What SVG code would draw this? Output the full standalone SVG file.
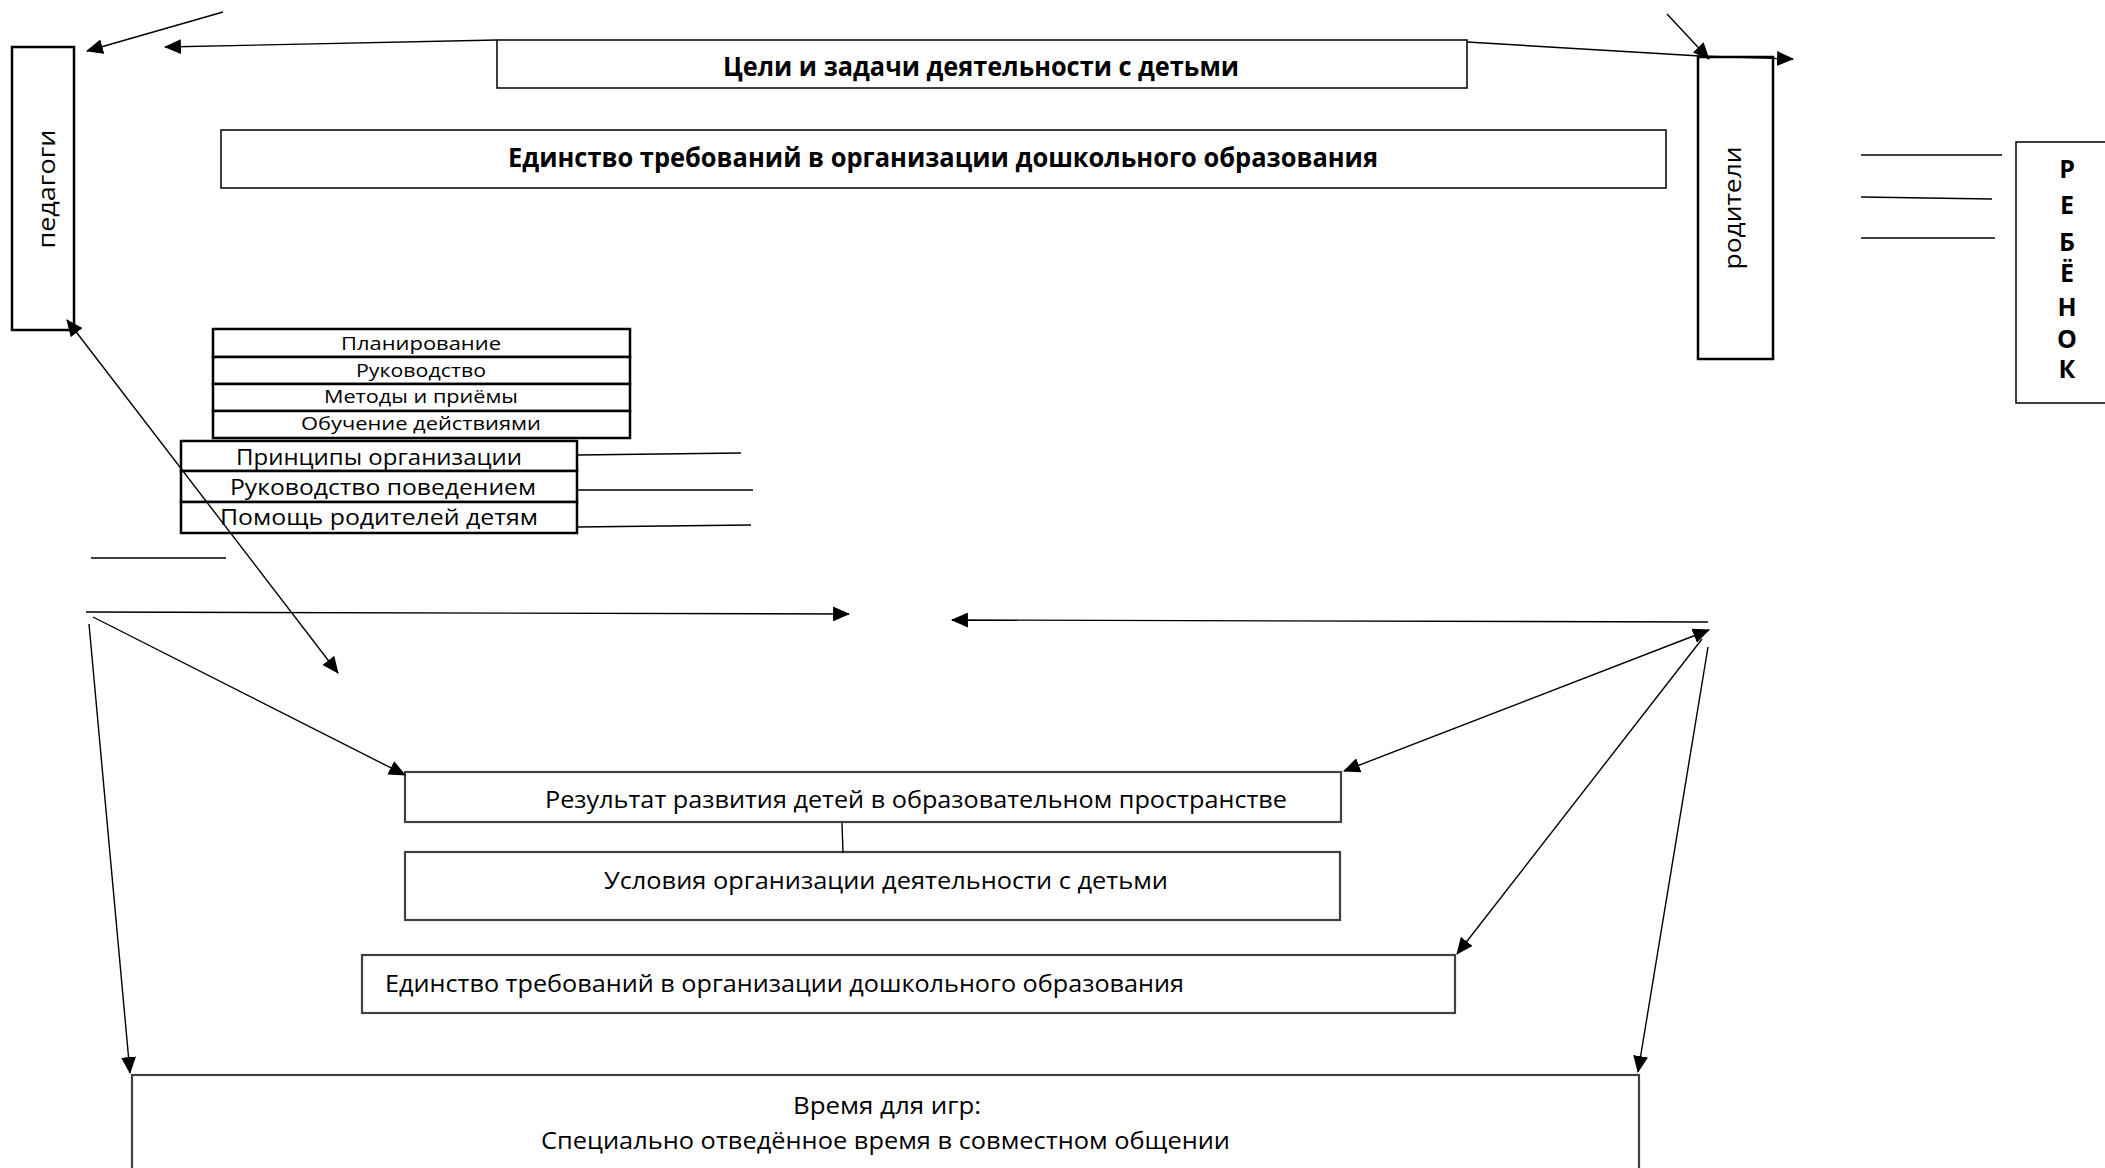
<svg xmlns="http://www.w3.org/2000/svg" width="2105" height="1168" viewBox="0 0 2105 1168">
<style>
.box{fill:#fff;stroke:#000;stroke-width:1.5}
.bx2{fill:#fff;stroke:#000;stroke-width:2.5}
.bg{fill:#fff;stroke:#404040;stroke-width:2.2}
.ln{fill:none;stroke:#000;stroke-width:1.4}
.g{font-family:"Open Sans","Liberation Sans",sans-serif;fill:#000}
.b{font-family:"Open Sans","Liberation Sans",sans-serif;font-weight:bold;fill:#000}
.c{font-family:"Open Sans","Liberation Sans",sans-serif;fill:#000}
</style>
<defs>
<marker id="ah" viewBox="0 0 16 14" refX="15" refY="7" markerWidth="17" markerHeight="15" markerUnits="userSpaceOnUse" orient="auto-start-reverse"><path d="M0,0 L16,7 L0,14 z" fill="#000"/></marker>
</defs>
<rect width="2105" height="1168" fill="#fff"/>

<g id="pedagogi">
<rect class="bx2" x="12" y="47" width="62" height="283"/>
<text class="g" font-size="24" text-anchor="middle" textLength="119" lengthAdjust="spacingAndGlyphs" transform="translate(55,189) rotate(-90)">педагоги</text>
</g>

<g id="roditeli">
<rect class="bx2" x="1698" y="57" width="75" height="302"/>
<text class="g" font-size="24" text-anchor="middle" textLength="123" lengthAdjust="spacingAndGlyphs" transform="translate(1741,208) rotate(-90)">родители</text>
</g>

<g id="rebenok">
<rect class="box" x="2016" y="142" width="120" height="261"/>
<g class="b" font-size="25" text-anchor="middle">
<text x="2067" y="178">Р</text>
<text x="2067" y="214">Е</text>
<text x="2067" y="251">Б</text>
<text x="2067" y="282">Ё</text>
<text x="2067" y="316">Н</text>
<text x="2067" y="348">О</text>
<text x="2067" y="378">К</text>
</g>
</g>

<g id="celi">
<rect class="box" x="497" y="40" width="970" height="48"/>
<text class="b" font-size="26" x="723" y="76" textLength="516" lengthAdjust="spacingAndGlyphs">Цели и задачи деятельности с детьми</text>
</g>

<g id="edinstvo-top">
<rect class="box" x="221" y="130" width="1445" height="58"/>
<text class="b" font-size="26" x="508" y="167" textLength="870" lengthAdjust="spacingAndGlyphs">Единство требований в организации дошкольного образования</text>
</g>

<g id="list-top">
<rect class="bx2" x="213" y="329" width="417" height="28"/>
<rect class="bx2" x="213" y="357" width="417" height="27"/>
<rect class="bx2" x="213" y="384" width="417" height="27"/>
<rect class="bx2" x="213" y="411" width="417" height="27"/>
<g class="g" font-size="18" text-anchor="middle">
<text x="421" y="350" textLength="160" lengthAdjust="spacingAndGlyphs">Планирование</text>
<text x="421" y="377" textLength="130" lengthAdjust="spacingAndGlyphs">Руководство</text>
<text x="421" y="403" textLength="194" lengthAdjust="spacingAndGlyphs">Методы и приёмы</text>
<text x="421" y="430" textLength="240" lengthAdjust="spacingAndGlyphs">Обучение действиями</text>
</g>
</g>

<g id="list-bottom">
<rect class="bx2" x="181" y="441" width="396" height="30"/>
<rect class="bx2" x="181" y="471" width="396" height="31"/>
<rect class="bx2" x="181" y="502" width="396" height="31"/>
<g class="g" font-size="21" text-anchor="middle">
<text x="379" y="465" textLength="286" lengthAdjust="spacingAndGlyphs">Принципы организации</text>
<text x="383" y="495" textLength="306" lengthAdjust="spacingAndGlyphs">Руководство поведением</text>
<text x="379" y="525" textLength="318" lengthAdjust="spacingAndGlyphs">Помощь родителей детям</text>
</g>
</g>

<g id="rezultat">
<rect class="bg" x="405" y="772" width="936" height="50"/>
<text class="c" font-size="24" x="545" y="808" textLength="742" lengthAdjust="spacingAndGlyphs">Результат развития детей в образовательном пространстве</text>
</g>

<g id="usloviya">
<rect class="bg" x="405" y="852" width="935" height="68"/>
<text class="c" font-size="24" x="604" y="889" textLength="564" lengthAdjust="spacingAndGlyphs">Условия организации деятельности с детьми</text>
</g>

<g id="edinstvo-bottom">
<rect class="bg" x="362" y="955" width="1093" height="58"/>
<text class="c" font-size="24" x="385" y="992" textLength="799" lengthAdjust="spacingAndGlyphs">Единство требований в организации дошкольного образования</text>
</g>

<g id="vremya">
<rect class="bg" x="132" y="1075" width="1507" height="200"/>
<text class="c" font-size="24" x="887" y="1114" text-anchor="middle" textLength="188" lengthAdjust="spacingAndGlyphs">Время для игр:</text>
<text class="c" font-size="24" x="541" y="1149" textLength="689" lengthAdjust="spacingAndGlyphs">Специально отведённое время в совместном общении</text>
</g>

<g id="connectors">
<line class="ln" x1="223" y1="12" x2="87" y2="51" marker-end="url(#ah)"/>
<line class="ln" x1="497" y1="40" x2="165" y2="47" marker-end="url(#ah)"/>
<polyline class="ln" points="1467,42 1700,56 1793,59" marker-end="url(#ah)"/>
<line class="ln" x1="1667" y1="14" x2="1709" y2="59" marker-end="url(#ah)"/>
<line class="ln" x1="1861" y1="155" x2="2002" y2="155"/>
<line class="ln" x1="1861" y1="197" x2="1992" y2="199"/>
<line class="ln" x1="1861" y1="238" x2="1995" y2="238"/>
<line class="ln" x1="67" y1="320" x2="338" y2="673" marker-start="url(#ah)" marker-end="url(#ah)"/>
<line class="ln" x1="577" y1="455" x2="741" y2="453"/>
<line class="ln" x1="577" y1="490" x2="753" y2="490"/>
<line class="ln" x1="577" y1="527" x2="751" y2="525"/>
<line class="ln" x1="91" y1="558" x2="226" y2="558"/>
<line class="ln" x1="86" y1="612" x2="849" y2="614" marker-end="url(#ah)"/>
<line class="ln" x1="1708" y1="622" x2="952" y2="620" marker-end="url(#ah)"/>
<line class="ln" x1="93" y1="617" x2="405" y2="775" marker-end="url(#ah)"/>
<line class="ln" x1="89" y1="624" x2="130" y2="1073" marker-end="url(#ah)"/>
<line class="ln" x1="1344" y1="771" x2="1709" y2="630" marker-start="url(#ah)" marker-end="url(#ah)"/>
<line class="ln" x1="1702" y1="639" x2="1457" y2="954" marker-end="url(#ah)"/>
<line class="ln" x1="1708" y1="647" x2="1638" y2="1072" marker-end="url(#ah)"/>
<line class="ln" x1="842" y1="823" x2="843" y2="853"/>
</g>
</svg>
